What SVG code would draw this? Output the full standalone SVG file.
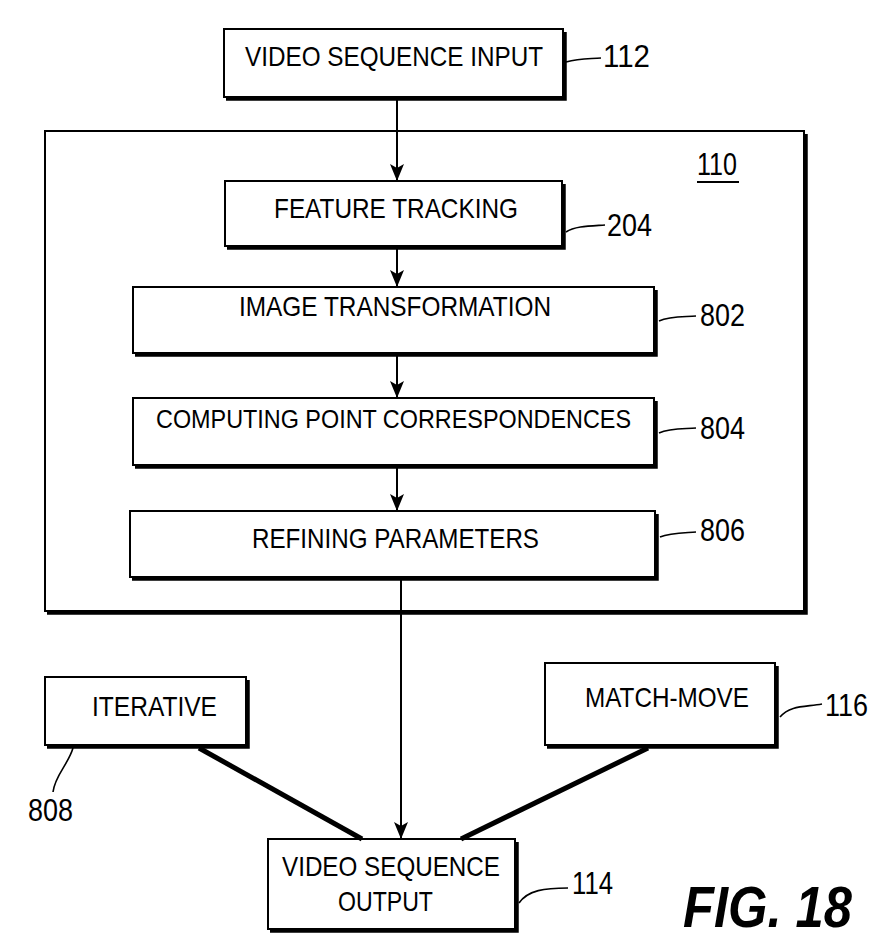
<svg xmlns="http://www.w3.org/2000/svg" width="893" height="951" viewBox="0 0 893 951">
<style>
.box{fill:#fff;stroke:#000;stroke-width:2}
.sh{fill:none;stroke:#000;stroke-width:3.5}
.t{font-family:"Liberation Sans",Arial,sans-serif;font-size:28.5px;fill:#000}
.t2{font-family:"Liberation Sans",Arial,sans-serif;font-size:26px;fill:#000}
.n{font-family:"Liberation Sans",Arial,sans-serif;font-size:30.5px;fill:#000}
.ld{fill:none;stroke:#000;stroke-width:1.6}
.c{fill:none;stroke:#000;stroke-width:2}
.thick{fill:none;stroke:#000;stroke-width:5}
.fig{font-family:"Liberation Sans",Arial,sans-serif;font-size:57px;font-weight:bold;font-style:italic;fill:#000}
</style>
<defs>
<marker id="ah" markerUnits="userSpaceOnUse" markerWidth="18" markerHeight="16" refX="17" refY="7" orient="auto">
<path d="M0,0 L17,7 L0,14 L4,7 Z" fill="#000"/>
</marker>
</defs>
<rect width="893" height="951" fill="#fff"/>

<g id="n110">
<rect class="box" x="45" y="131" width="759" height="480"/>
<path class="sh" d="M806,134 V613 H47"/>
<text class="n" x="697" y="175" textLength="40" lengthAdjust="spacingAndGlyphs">110</text>
<line x1="697" y1="182" x2="739" y2="182" stroke="#000" stroke-width="2"/>
</g>

<g id="n112">
<rect class="box" x="224" y="29" width="339" height="68"/>
<path class="sh" d="M565,32 V99 H226"/>
<text class="t" x="245" y="66" textLength="298" lengthAdjust="spacingAndGlyphs">VIDEO SEQUENCE INPUT</text>
<path class="ld" d="M566,62 C580,58 590,59 601,58"/>
<text class="n" x="603" y="67" textLength="47" lengthAdjust="spacingAndGlyphs">112</text>
</g>

<g id="n204">
<rect class="box" x="225" y="181" width="337" height="65"/>
<path class="sh" d="M564,184 V248 H227"/>
<text class="t" x="274" y="218" textLength="244" lengthAdjust="spacingAndGlyphs">FEATURE TRACKING</text>
<path class="ld" d="M566,232 C575,226 590,226 605,225"/>
<text class="n" x="607" y="236" textLength="45" lengthAdjust="spacingAndGlyphs">204</text>
</g>

<g id="n802">
<rect class="box" x="133" y="287" width="521" height="66"/>
<path class="sh" d="M656,290 V355 H135"/>
<text class="t" x="239" y="316" textLength="312" lengthAdjust="spacingAndGlyphs">IMAGE TRANSFORMATION</text>
<path class="ld" d="M659,321 C670,316 684,317 696,316"/>
<text class="n" x="700" y="326" textLength="45" lengthAdjust="spacingAndGlyphs">802</text>
</g>

<g id="n804">
<rect class="box" x="133" y="398" width="521" height="67"/>
<path class="sh" d="M656,401 V467 H135"/>
<text class="t2" x="156" y="428" textLength="475" lengthAdjust="spacingAndGlyphs">COMPUTING POINT CORRESPONDENCES</text>
<path class="ld" d="M659,433 C670,428 684,429 696,428"/>
<text class="n" x="700" y="439" textLength="45" lengthAdjust="spacingAndGlyphs">804</text>
</g>

<g id="n806">
<rect class="box" x="130" y="511" width="525" height="66"/>
<path class="sh" d="M657,514 V579 H132"/>
<text class="t" x="252" y="548" textLength="287" lengthAdjust="spacingAndGlyphs">REFINING PARAMETERS</text>
<path class="ld" d="M660,537 C670,533 684,533 696,532"/>
<text class="n" x="700" y="541" textLength="45" lengthAdjust="spacingAndGlyphs">806</text>
</g>

<g id="n808">
<rect class="box" x="45" y="677" width="201" height="68"/>
<path class="sh" d="M248,680 V747 H47"/>
<text class="t" x="92" y="716" textLength="125" lengthAdjust="spacingAndGlyphs">ITERATIVE</text>
<path class="ld" d="M73,748 C68,765 55,775 53,792"/>
<text class="n" x="28" y="821" textLength="45" lengthAdjust="spacingAndGlyphs">808</text>
</g>

<g id="n116">
<rect class="box" x="545" y="663" width="230" height="82"/>
<path class="sh" d="M777,666 V747 H547"/>
<text class="t" x="585" y="707" textLength="164" lengthAdjust="spacingAndGlyphs">MATCH-MOVE</text>
<path class="ld" d="M780,717 C790,705 805,707 822,704"/>
<text class="n" x="825" y="716" textLength="43" lengthAdjust="spacingAndGlyphs">116</text>
</g>

<g id="n114">
<rect class="box" x="268" y="839" width="247" height="90"/>
<path class="sh" d="M517,842 V931 H270"/>
<text class="t" x="282" y="876" textLength="218" lengthAdjust="spacingAndGlyphs">VIDEO SEQUENCE</text>
<text class="t" x="338" y="911" textLength="95" lengthAdjust="spacingAndGlyphs">OUTPUT</text>
<path class="ld" d="M519,903 C528,890 545,888 568,888"/>
<text class="n" x="572" y="894" textLength="41" lengthAdjust="spacingAndGlyphs">114</text>
</g>

<g id="connectors">
<line class="c" x1="397" y1="99" x2="397" y2="181" marker-end="url(#ah)"/>
<line class="c" x1="397" y1="248" x2="397" y2="287" marker-end="url(#ah)"/>
<line class="c" x1="397" y1="355" x2="397" y2="398" marker-end="url(#ah)"/>
<line class="c" x1="397" y1="467" x2="397" y2="511" marker-end="url(#ah)"/>
<line class="c" x1="401" y1="579" x2="401" y2="839" marker-end="url(#ah)"/>
<line class="thick" x1="199" y1="748" x2="362" y2="839"/>
<line class="thick" x1="648" y1="748" x2="461" y2="839"/>
</g>

<text class="fig" x="683" y="927" textLength="169" lengthAdjust="spacingAndGlyphs">FIG. 18</text>
</svg>
